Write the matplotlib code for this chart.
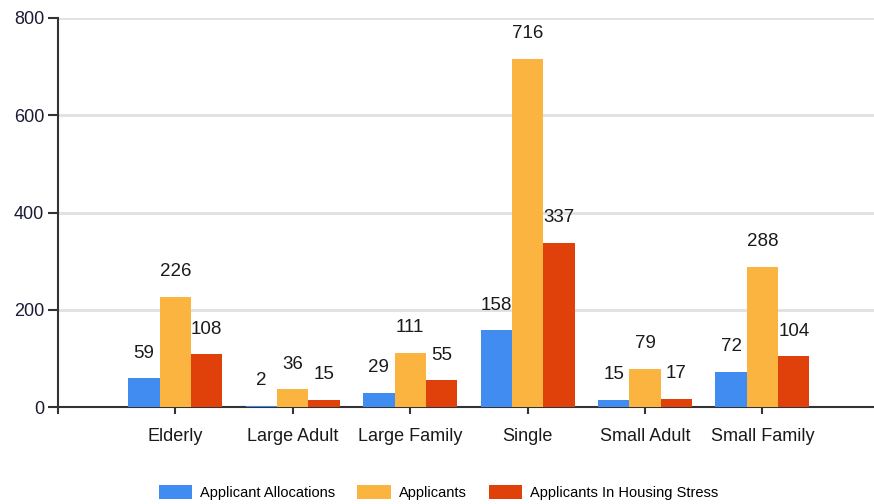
import matplotlib
matplotlib.use("Agg")
import matplotlib.pyplot as plt
import numpy as np

categories = ["Elderly", "Large Adult", "Large Family", "Single", "Small Adult", "Small Family"]
allocations = [59, 2, 29, 158, 15, 72]
applicants = [226, 36, 111, 716, 79, 288]
stress = [108, 15, 55, 337, 17, 104]
series_names = ["Applicant Allocations", "Applicants", "Applicants In Housing Stress"]
colors = ["#418CF0", "#FCB441", "#E0400A"]
yticks = [0, 200, 400, 600, 800]

plt.rcParams["font.family"] = ["Liberation Sans", "DejaVu Sans"]

fig = plt.figure(figsize=(8.74, 5.04), dpi=100)
ax = fig.add_axes([58/874, 1-407/504, 1-58/874, (407-18)/504])

x = np.arange(len(categories))
w = 0.8/3
for i, (vals, c, name) in enumerate(zip([allocations, applicants, stress], colors, series_names)):
    pos = x + (i-1)*w
    ax.bar(pos, vals, width=w, color=c, label=name, zorder=3)
    for p, v in zip(pos, vals):
        ax.annotate(str(v), (p, v), xytext=(0, 12), textcoords="offset points",
                    ha="center", va="bottom", fontsize=13.5, color="#1a1a1a")

ax.set_xlim(-1, 5.95)
ax.set_ylim(0, 800)
ax.set_yticks(yticks)
ax.set_yticklabels([str(t) for t in yticks], fontsize=13, color="#1a1a33")
ax.set_xticks([-1] + list(x))
ax.set_xticklabels([""] + categories, fontsize=13, color="#1a1a1a")
ax.tick_params(axis="y", length=7, width=1.5, color="#333333", pad=3)
ax.tick_params(axis="x", length=5, width=1.5, color="#333333", pad=10)
ax.grid(axis="y", color="#e0e0e0", linewidth=2, zorder=0)
for s in ["top", "right"]:
    ax.spines[s].set_visible(False)
for s in ["left", "bottom"]:
    ax.spines[s].set_color("#333333")
    ax.spines[s].set_linewidth(1.5)

fig.legend(loc="lower center", bbox_to_anchor=(0.502, -0.018), ncol=3, frameon=False,
           fontsize=10.5, handlelength=2.3, handleheight=1.2, columnspacing=1.5,
           handletextpad=0.55)

fig.savefig("out.png", dpi=100)
